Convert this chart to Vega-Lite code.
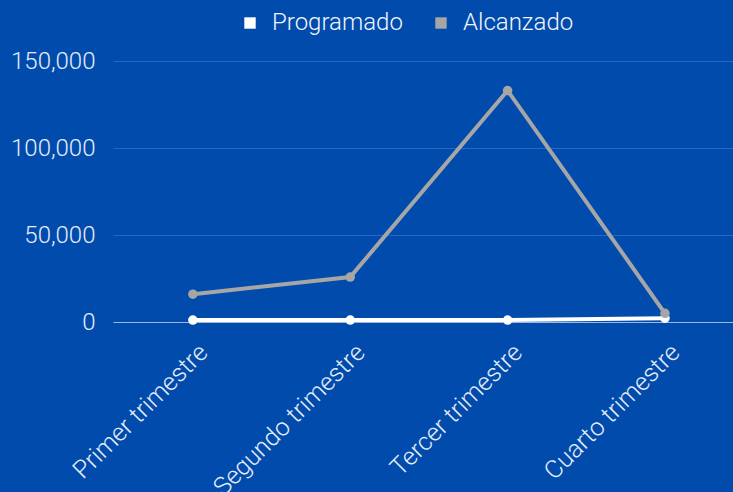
{
  "$schema": "https://vega.github.io/schema/vega-lite/v6.json",
  "autosize": "none",
  "width": 620,
  "height": 261,
  "padding": {"left": 113, "top": 61, "right": 0, "bottom": 170},
  "background": "#004BAC",
  "config": {
    "view": {"stroke": null},
    "font": "Roboto",
    "axis": {"labelFont": "Roboto", "labelFontWeight": 300}
  },
  "data": {
    "values": [
      {"trimestre": "Primer trimestre", "serie": "Programado", "valor": 1100},
      {"trimestre": "Segundo trimestre", "serie": "Programado", "valor": 1100},
      {"trimestre": "Tercer trimestre", "serie": "Programado", "valor": 1100},
      {"trimestre": "Cuarto trimestre", "serie": "Programado", "valor": 2200},
      {"trimestre": "Primer trimestre", "serie": "Alcanzado", "valor": 16000},
      {"trimestre": "Segundo trimestre", "serie": "Alcanzado", "valor": 25800},
      {"trimestre": "Tercer trimestre", "serie": "Alcanzado", "valor": 133000},
      {"trimestre": "Cuarto trimestre", "serie": "Alcanzado", "valor": 5000}
    ]
  },
  "mark": {"type": "line", "strokeWidth": 4, "point": {"filled": true, "size": 90}},
  "encoding": {
    "x": {
      "field": "trimestre",
      "type": "nominal",
      "sort": ["Primer trimestre", "Segundo trimestre", "Tercer trimestre", "Cuarto trimestre"],
      "scale": {"type": "point", "padding": 0.47, "align": 0.54},
      "axis": {
        "title": null,
        "labelAngle": -45,
        "labelAlign": "right",
        "labelBaseline": "middle",
        "labelFontSize": 25,
        "labelLimit": 400,
        "labelColor": "#E6ECF7",
        "labelPadding": 26,
        "labelOffset": 10,
        "ticks": false,
        "domain": true,
        "domainColor": "#9FB6DE",
        "domainWidth": 1,
        "grid": false
      }
    },
    "y": {
      "field": "valor",
      "type": "quantitative",
      "scale": {"domain": [0, 150000], "nice": false},
      "axis": {
        "title": null,
        "values": [0, 50000, 100000, 150000],
        "format": ",.0f",
        "labelFontSize": 24,
        "labelColor": "#E6ECF7",
        "labelPadding": 18,
        "ticks": false,
        "domain": false,
        "grid": true,
        "gridColor": "#2C66C0",
        "gridWidth": 1
      }
    },
    "color": {
      "field": "serie",
      "type": "nominal",
      "sort": ["Programado", "Alcanzado"],
      "scale": {"domain": ["Programado", "Alcanzado"], "range": ["#FFFFFF", "#A6A6A6"]},
      "legend": {
        "title": null,
        "orient": "none",
        "direction": "horizontal",
        "legendX": 125,
        "legendY": -50,
        "symbolType": "square",
        "symbolSize": 130,
        "symbolStrokeWidth": 0,
        "labelFontSize": 24,
        "labelFont": "Roboto",
        "labelFontWeight": 300,
        "labelColor": "#F2F5FB",
        "columnPadding": 26,
        "labelOffset": 10
      }
    }
  }
}
